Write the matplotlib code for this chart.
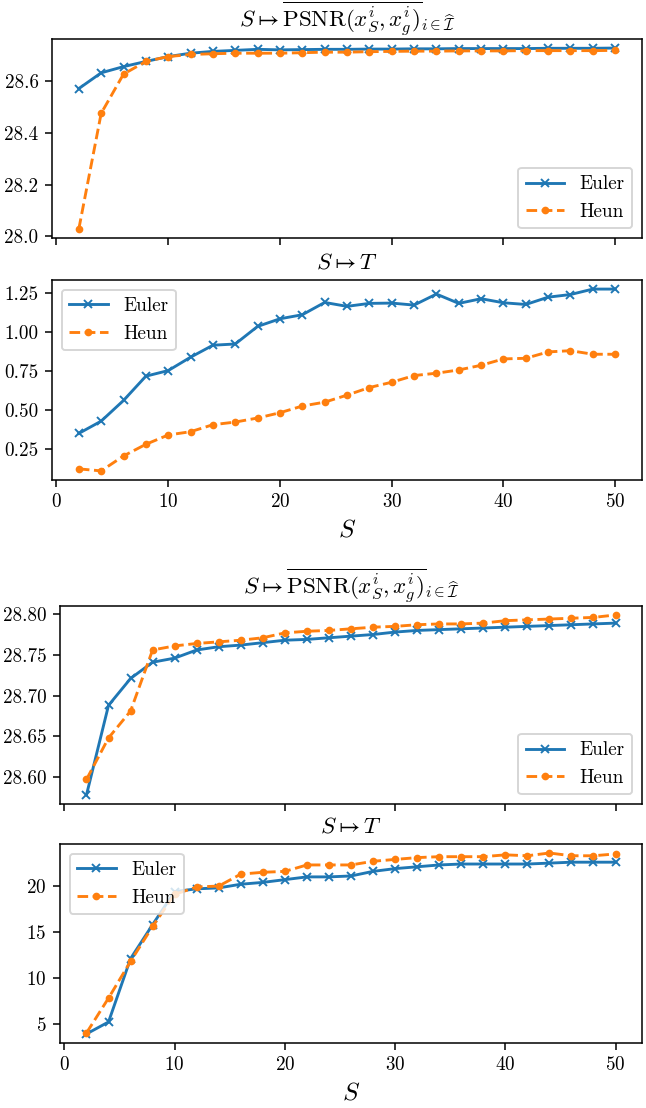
import matplotlib
matplotlib.use("Agg")
from matplotlib import pyplot as plt

plt.rcParams['font.family'] = 'serif'
plt.rcParams['font.serif'] = ['cmr10']
plt.rcParams['mathtext.fontset'] = 'cm'
plt.rcParams['axes.formatter.use_mathtext'] = True
plt.rcParams['axes.unicode_minus'] = False

steps = list(range(2, 51, 2))

# first setting
psnr_euler_a = [28.572, 28.633, 28.657, 28.677, 28.696, 28.709, 28.716, 28.720, 28.724, 28.722,
                28.723, 28.724, 28.724, 28.725, 28.725, 28.726, 28.726, 28.727, 28.727, 28.727,
                28.727, 28.728, 28.728, 28.728, 28.729]
psnr_heun_a = [28.028, 28.476, 28.628, 28.677, 28.696, 28.704, 28.707, 28.709, 28.709, 28.709,
               28.711, 28.713, 28.713, 28.715, 28.716, 28.717, 28.717, 28.718, 28.718, 28.718,
               28.719, 28.719, 28.719, 28.719, 28.720]
time_euler_a = [0.348, 0.427, 0.560, 0.716, 0.752, 0.838, 0.915, 0.923, 1.036, 1.085,
                1.111, 1.190, 1.165, 1.184, 1.186, 1.173, 1.244, 1.184, 1.214, 1.188,
                1.177, 1.224, 1.241, 1.276, 1.276]
time_heun_a = [0.120, 0.107, 0.203, 0.278, 0.338, 0.359, 0.404, 0.421, 0.447, 0.481,
               0.524, 0.549, 0.594, 0.643, 0.677, 0.720, 0.735, 0.756, 0.786, 0.827,
               0.831, 0.872, 0.880, 0.857, 0.857]

# second setting
psnr_euler_b = [28.578, 28.688, 28.721, 28.741, 28.746, 28.756, 28.760, 28.762, 28.765, 28.768,
                28.769, 28.771, 28.773, 28.775, 28.778, 28.780, 28.781, 28.782, 28.783, 28.784,
                28.785, 28.786, 28.787, 28.788, 28.789]
psnr_heun_b = [28.597, 28.648, 28.681, 28.756, 28.761, 28.764, 28.766, 28.768, 28.771, 28.777,
               28.779, 28.780, 28.782, 28.784, 28.785, 28.787, 28.788, 28.788, 28.789, 28.792,
               28.793, 28.794, 28.795, 28.796, 28.799]
time_euler_b = [3.9, 5.2, 12.1, 15.8, 19.4, 19.7, 19.8, 20.2, 20.4, 20.7,
                21.0, 21.0, 21.1, 21.6, 21.9, 22.1, 22.3, 22.4, 22.4, 22.4,
                22.4, 22.5, 22.6, 22.6, 22.6]
time_heun_b = [4.0, 7.8, 11.8, 15.6, 19.1, 19.9, 20.0, 21.3, 21.5, 21.6,
               22.3, 22.3, 22.3, 22.7, 22.9, 23.1, 23.2, 23.2, 23.2, 23.4,
               23.3, 23.6, 23.3, 23.3, 23.5]

psnr_title = r'$S \mapsto \overline{\mathrm{PSNR}(x^i_S, x^i_g)}_{i\in\widehat{\mathcal{I}}}$'
time_title = r'$S \mapsto T$'

fig = plt.figure(figsize=(646 / 138, 1108 / 138), dpi=138)

ax1 = fig.add_axes([0.0805, 0.7852, 0.9133, 0.1796])
ax2 = fig.add_axes([0.0805, 0.5668, 0.9133, 0.1805], sharex=ax1)
ax3 = fig.add_axes([0.0929, 0.2744, 0.9009, 0.1787])
ax4 = fig.add_axes([0.0929, 0.0587, 0.9009, 0.1796], sharex=ax3)


def draw(ax, euler, heun, title, loc):
    ax.plot(steps, euler, '-x', color='C0', markersize=4, label='Euler')
    ax.plot(steps, heun, '--o', color='C1', markersize=3, label='Heun')
    ax.set_title(title)
    ax.legend(loc=loc)


draw(ax1, psnr_euler_a, psnr_heun_a, psnr_title, 'lower right')
draw(ax2, time_euler_a, time_heun_a, time_title, 'upper left')
draw(ax3, psnr_euler_b, psnr_heun_b, psnr_title, 'lower right')
draw(ax4, time_euler_b, time_heun_b, time_title, 'upper left')

ax1.set_yticks([28.0, 28.2, 28.4, 28.6])
ax2.set_yticks([0.25, 0.5, 0.75, 1.0, 1.25])
ax3.set_yticks([28.60, 28.65, 28.70, 28.75, 28.80])
ax4.set_yticks([5, 10, 15, 20])
ax2.yaxis.set_major_formatter(plt.FormatStrFormatter('%.2f'))
ax3.yaxis.set_major_formatter(plt.FormatStrFormatter('%.2f'))
ax1.yaxis.set_major_formatter(plt.FormatStrFormatter('%.1f'))

for top, bottom in [(ax1, ax2), (ax3, ax4)]:
    top.tick_params(labelbottom=False)
    bottom.set_xticks([0, 10, 20, 30, 40, 50])
    bottom.set_xlabel(r'$S$', fontsize=13)

fig.savefig('out.png', dpi=138)
